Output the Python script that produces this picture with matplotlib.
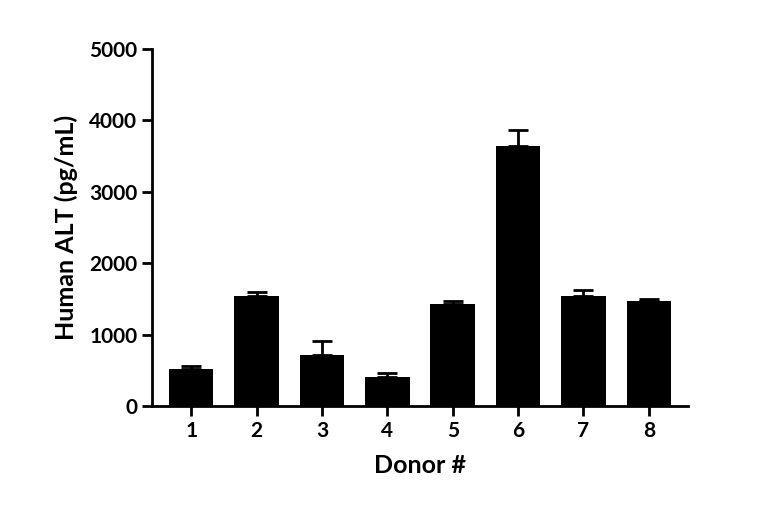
import matplotlib
matplotlib.use("Agg")
import matplotlib.pyplot as plt

donors = ["1", "2", "3", "4", "5", "6", "7", "8"]
values = [520, 1545, 720, 410, 1425, 3640, 1540, 1470]
errors = [40, 55, 190, 55, 45, 230, 85, 35]

plt.rcParams['font.family'] = ['Lato', 'DejaVu Sans']
fig = plt.figure(figsize=(7.68, 5.21), dpi=100)
ax = fig.add_axes([152/768, 1-406/521, (688-152)/768, (406-49)/521])
x = range(len(donors))
ax.bar(x, values, width=0.68, color='black', zorder=2)
ax.errorbar(x, values, yerr=[[0]*len(errors), errors], fmt='none', ecolor='black',
            elinewidth=2, capsize=7, capthick=2, zorder=1)
ax.set_xlim(-0.6, 7.6)
ax.set_ylim(0, 5000)
ax.set_yticks(range(0, 5001, 1000))
ax.set_xticks(list(x))
ax.set_xticklabels(donors)
for s in ['top', 'right']:
    ax.spines[s].set_visible(False)
for s in ['left', 'bottom']:
    ax.spines[s].set_linewidth(2)
ax.tick_params(width=2, length=7, labelsize=15)
for t in ax.get_xticklabels() + ax.get_yticklabels():
    t.set_fontweight('bold')
ax.set_xlabel("Donor #", fontsize=18, fontweight='bold', labelpad=10)
ax.set_ylabel("Human ALT (pg/mL)", fontsize=18, fontweight='bold', labelpad=8)
fig.savefig("out.png", dpi=100)
